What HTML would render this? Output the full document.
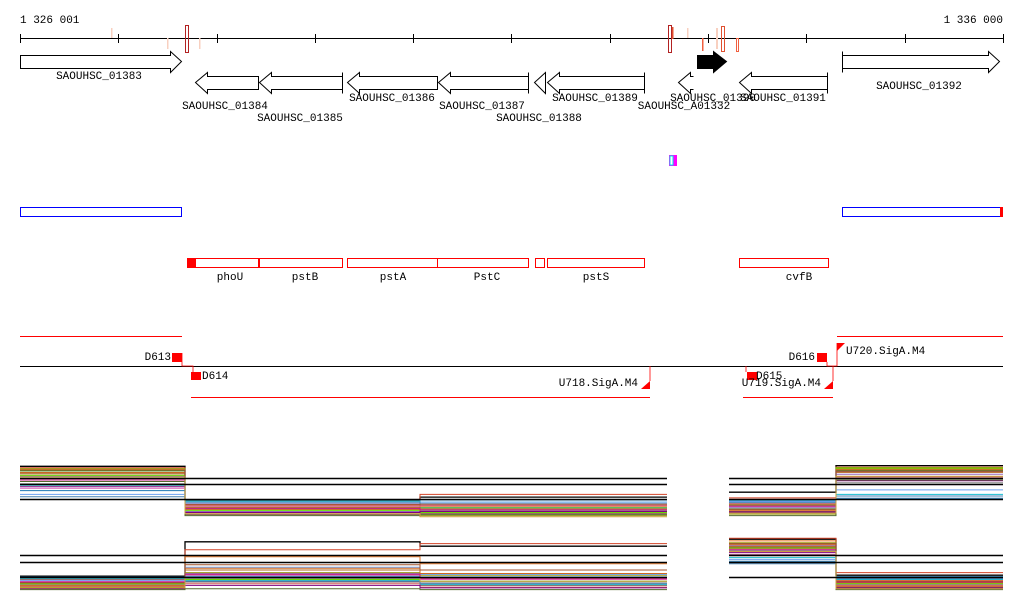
<!DOCTYPE html>
<html><head><meta charset="utf-8">
<style>
html,body{margin:0;padding:0;background:#fff;}
svg{display:block;font-family:"Liberation Mono",monospace;font-size:11px;}
</style></head>
<body>
<svg id="c" width="1024" height="611" viewBox="0 0 1024 611">
<g>
 <text x="20" y="23">1 326 001</text>
 <text x="1003" y="23" text-anchor="end">1 336 000</text>
 <line x1="20" y1="38.5" x2="1003" y2="38.5" stroke="#000"/>
 <g id="ticks"></g>
 <g>
  <rect x="111" y="28" width="1.5" height="10" fill="#f8d0c0"/>
  <rect x="167" y="38" width="1.5" height="11" fill="#f8d0c0"/>
  <rect x="199" y="38" width="1.5" height="11" fill="#f8d0c0"/>
  <rect x="185.5" y="25.5" width="3" height="27" fill="none" stroke="#b22222"/>
  <rect x="668.5" y="25.5" width="3" height="27" fill="none" stroke="#b22222"/>
  <rect x="672" y="27" width="1.5" height="12" fill="#e05030"/>
  <rect x="687" y="28" width="1.5" height="10" fill="#f8d0c0"/>
  <rect x="702" y="38" width="1.5" height="13" fill="#f06040"/>
  <rect x="716" y="28" width="2" height="21" fill="#f8d0c0"/>
  <rect x="721.5" y="26.5" width="3" height="25" fill="none" stroke="#e05030"/>
  <rect x="736.5" y="38.5" width="2" height="13" fill="none" stroke="#f06040"/>
 </g>
</g>
<g fill="#fff" stroke="#000" stroke-width="1">
 <path d="M20.5,55.5H170.5V51.5L181.5,61.5L170.5,72.5V68.5H20.5Z"/>
 <path d="M258.5,76.5H207.5V72.5L195.5,82.5L207.5,93.5V89.5H258.5Z"/>
 <path d="M342.5,76.5H271.5V72.5L259.5,82.5L271.5,93.5V89.5H342.5M342.5,72.5V93.5"/>
 <path d="M437.5,76.5H359.5V72.5L347.5,82.5L359.5,93.5V89.5H437.5Z"/>
 <path d="M528.5,76.5H450.5V72.5L438.5,82.5L450.5,93.5V89.5H528.5M528.5,72.5V93.5"/>
 <path d="M545.5,72.5L534.5,82.5L545.5,93.5Z"/>
 <path d="M644.5,76.5H559.5V72.5L547.5,82.5L559.5,93.5V89.5H644.5M644.5,72.5V93.5"/>
 <path d="M693.5,76.5H690.5V72.5L678.5,82.5L690.5,93.5V89.5H693.5"/>
 <path fill="#000" d="M697.5,55.5H713.5V51.5L726.5,61.5L713.5,72.5V68.5H697.5Z"/>
 <path d="M827.5,76.5H751.5V72.5L739.5,82.5L751.5,93.5V89.5H827.5M827.5,72.5V93.5"/>
 <path d="M842.5,55.5H988.5V51.5L999.5,61.5L988.5,72.5V68.5H842.5M842.5,51.5V72.5"/>
</g>
<g text-anchor="middle">
 <text x="99" y="79">SAOUHSC_01383</text>
 <text x="225" y="109">SAOUHSC_01384</text>
 <text x="300" y="121">SAOUHSC_01385</text>
 <text x="392" y="101">SAOUHSC_01386</text>
 <text x="482" y="109">SAOUHSC_01387</text>
 <text x="539" y="121">SAOUHSC_01388</text>
 <text x="595" y="101">SAOUHSC_01389</text>
 <text x="684" y="109">SAOUHSC_A01332</text>
 <text x="713" y="101">SAOUHSC_01390</text>
 <text x="783" y="101">SAOUHSC_01391</text>
 <text x="919" y="89">SAOUHSC_01392</text>
</g>
<g>
 <rect x="669" y="155" width="8" height="11" fill="#ff00ff"/>
 <rect x="670" y="156" width="3" height="9" fill="#fff" stroke="#00e5ee"/>
</g>
<g fill="none" stroke="#0000ff">
 <rect x="20.5" y="207.5" width="161" height="9"/>
 <rect x="842.5" y="207.5" width="160" height="9"/>
 <rect x="1000" y="207" width="3" height="10" fill="#ff0000" stroke="none"/>
</g>
<g fill="none" stroke="#ff0000">
 <rect x="187" y="258" width="9" height="10" fill="#ff0000" stroke="none"/>
 <rect x="187.5" y="258.5" width="71" height="9"/>
 <rect x="259.5" y="258.5" width="83" height="9"/>
 <rect x="347.5" y="258.5" width="90" height="9"/>
 <rect x="437.5" y="258.5" width="91" height="9"/>
 <rect x="535.5" y="258.5" width="9" height="9"/>
 <rect x="547.5" y="258.5" width="97" height="9"/>
 <rect x="739.5" y="258.5" width="89" height="9"/>
</g>
<g text-anchor="middle">
 <text x="230" y="280">phoU</text><text x="305" y="280">pstB</text>
 <text x="393" y="280">pstA</text><text x="487" y="280">PstC</text>
 <text x="596" y="280">pstS</text><text x="799" y="280">cvfB</text>
</g>
<g>
 <line x1="20" y1="336.5" x2="182" y2="336.5" stroke="#ff0000"/>
 <line x1="837" y1="336.5" x2="1003" y2="336.5" stroke="#ff0000"/>
 <line x1="20" y1="366.5" x2="1003" y2="366.5" stroke="#000"/>
 <line x1="191" y1="397.5" x2="650" y2="397.5" stroke="#ff0000"/>
 <line x1="743" y1="397.5" x2="833" y2="397.5" stroke="#ff0000"/>
 <rect x="172" y="353" width="10" height="9" fill="#ff0000"/>
 <rect x="191" y="372" width="10" height="8" fill="#ff0000"/>
 <rect x="747" y="372" width="10" height="8" fill="#ff0000"/>
 <rect x="817" y="353" width="10" height="9" fill="#ff0000"/>
 <path d="M641,389L650,381V389Z M824,389L833,381V389Z M837,343V351L845,343Z" fill="#ff0000"/>
 <path d="M182,353V366H193V372 M650,381V366 M746,372V366 M827,362V366H833V381 M833,366H837V343" fill="none" stroke="#ff0000" stroke-width="0.8"/>
 <text x="171" y="360" text-anchor="end">D613</text>
 <text x="202" y="379">D614</text>
 <text x="638" y="386" text-anchor="end">U718.SigA.M4</text>
 <text x="756" y="379">D615</text>
 <text x="821" y="386" text-anchor="end">U719.SigA.M4</text>
 <text x="815" y="360" text-anchor="end">D616</text>
 <text x="846" y="354">U720.SigA.M4</text>
</g>
<g id="expr"></g>
</svg>
<script>
// ruler ticks (genomic positions)
const tickPos = [1326001,1327000,1328000,1329000,1330000,1331000,1332000,1333000,1334000,1335000,1336000];
// expression segments: A=left gene, B=operon, C=cvfB region, D=right gene
const segStart = [20,185,420,729,836];
const segEnd   = [185,420,667,836,1003];
const colors = ['#000000','#d2452a','#e07020','#2ca02c','#1f77b4','#9467bd','#8c564b','#e377c2','#888888','#9a9a10','#17becf','#b5651d','#6ca0f0','#cd5c5c','#66dd00','#d2691e','#800080','#556b2f','#c71585','#4682b4','#a0522d','#c8a040'];
// top panel values per segment [A,B1,B2,C,D]
const topVals = [
 [8.6,-0.2,0.5,1.8,8.8],[8.2,-1.2,1.2,0.3,8.4],[7.8,-1.6,-1.4,-0.8,8.0],[7.4,-1.8,-1.7,-1.2,7.6],
 [2.2,-0.1,-0.2,-0.4,0.2],[6.0,-2.4,-2.2,-1.6,6.5],[6.9,-3.0,-2.8,-2.4,7.2],[2.8,-1.4,-1.2,-0.9,3.8],
 [4.0,-2.0,-2.2,-1.8,4.3],[8.0,-2.6,-3.2,-2.9,8.3],[3.6,-0.4,-0.6,-0.2,1.2],[6.6,-1.6,-1.9,-1.0,7.0],
 [1.2,-0.8,-0.6,-0.5,2.4],[5.4,-1.0,-1.3,-1.3,5.8],[6.2,-2.2,-2.6,-2.0,8.1],[7.0,-2.0,-2.4,-2.2,7.8],
 [3.2,-2.6,-2.4,-2.5,4.8],[4.6,-3.2,-3.0,-3.2,5.0],[5.0,-1.8,-2.1,-1.4,5.4],[0.6,-0.6,-0.9,-0.7,0.8],
 [7.6,-1.1,-1.0,-2.0,7.4],[5.8,-2.8,-3.4,-2.7,6.0]];
// bottom panel values per segment [A,B1,B2,C,D]
const botVals = [
 [0.2,8.0,7.0,8.6,0.4],[-0.6,6.2,7.6,8.8,1.0],[-1.2,4.6,3.0,8.2,-0.8],[-1.6,1.6,0.8,7.6,-1.2],
 [0.0,0.2,0.0,3.6,0.1],[-2.0,0.8,-1.0,7.2,-1.8],[-2.6,-1.2,-2.0,6.8,-2.4],[-1.0,0.4,-0.6,5.2,-1.0],
 [-1.8,-0.4,-1.4,6.0,-1.6],[-2.4,1.0,0.4,7.8,-2.6],[-0.4,-0.8,-1.8,4.4,-0.6],[-1.4,1.6,-0.2,7.0,-1.4],
 [-0.8,2.2,0.6,4.0,-0.3],[-2.2,-1.6,-2.4,6.4,-2.0],[-1.6,-0.6,-1.0,6.6,-1.6],[-2.0,2.0,0.8,7.4,-2.2],
 [-2.8,-2.0,-2.6,5.6,-2.6],[-3.0,-2.8,-3.0,5.0,-3.0],[-1.2,0.6,-0.4,6.2,-1.2],[-0.2,-1.0,-1.6,3.0,-0.4],
 [-1.4,2.8,1.6,7.6,-1.0],[-2.6,-0.2,-1.0,5.8,-2.8]];
const topRefs = [5.5,4,0];
const botRefs = [5,3.4,0];

const NS='http://www.w3.org/2000/svg';
const svg=document.getElementById('c');
const xPos=p=>20+(p-1326001)*(983/9999);
const tg=document.getElementById('ticks');
tickPos.forEach(p=>{
 const l=document.createElementNS(NS,'line');
 const x=Math.round(xPos(p))+0.5;
 l.setAttribute('x1',x);l.setAttribute('x2',x);l.setAttribute('y1',34);l.setAttribute('y2',43);
 l.setAttribute('stroke','#000');
 
 
 tg.appendChild(l);
});
const eg=document.getElementById('expr');
function yTop(v){return v>=0 ? 499-v*3.8 : 499-v*5.2;}
function yBot(v){return v>=0 ? 577-v*4.4 : 577-v*4.2;}
function panel(vals,refs,ys,name){
 const g=document.createElementNS(NS,'g');
 
 
 eg.appendChild(g);
 vals.forEach((row,i)=>{
  const segs=[[0,1,2],[3,4]];
  segs.forEach(s=>{
   let d='';
   s.forEach((k,j)=>{
    const y=ys(row[k]).toFixed(1);
    d+=(j===0?'M':'L')+segStart[k]+','+y+'L'+segEnd[k]+','+y;
   });
   const p=document.createElementNS(NS,'path');
   p.setAttribute('d',d);p.setAttribute('fill','none');
   p.setAttribute('stroke',colors[i%colors.length]);
   p.setAttribute('stroke-width',i===0?1.3:1);
   
   
   g.appendChild(p);
  });
 });
 refs.forEach(v=>{
  [[20,667],[729,1003]].forEach(r=>{
   const l=document.createElementNS(NS,'line');
   const y=Math.round(ys(v))+0.5;
   l.setAttribute('x1',r[0]);l.setAttribute('x2',r[1]);l.setAttribute('y1',y);l.setAttribute('y2',y);
   l.setAttribute('stroke','#000');l.setAttribute('stroke-width',1.5);
   
   
   g.appendChild(l);
  });
 });
}
panel(topVals,topRefs,yTop,'expression-panel-top');
panel(botVals,botRefs,yBot,'expression-panel-bottom');
</script>
</body></html>
